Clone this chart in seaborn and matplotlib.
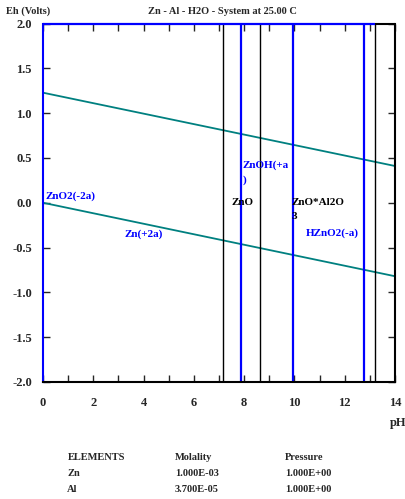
import matplotlib
matplotlib.use("Agg")
import matplotlib.pyplot as plt
import seaborn as sns
import pandas as pd

# Data
water_ph = [0.0, 14.0]
water_upper = [1.228, 0.41]
water_lower = [0.0, -0.82]

boundary_ph = [7.14, 7.86, 8.64, 9.96, 12.77, 13.2]
boundary_color = ['black', 'blue', 'black', 'blue', 'blue', 'black']

species_labels = ['ZnO2(-2a)', 'Zn(+2a)', 'ZnOH(+a\n)', 'ZnO', 'ZnO*Al2O\n3', 'HZnO2(-a)']
species_ph = [0.1, 3.25, 7.95, 7.5, 9.9, 10.45]
species_eh = [0.02, -0.41, 0.2, -0.05, -0.2, -0.39]
species_color = ['blue', 'blue', 'blue', 'black', 'black', 'blue']

elements = ['Zn', 'Al']
molality = ['1.000E-03', '3.700E-05']
pressure = ['1.000E+00', '1.000E+00']

sns.set_style("ticks")
plt.rcParams['font.family'] = ['Liberation Serif', 'DejaVu Serif']
plt.rcParams['font.weight'] = 'bold'

fig = plt.figure(figsize=(4.05, 4.99), dpi=100)
ax = fig.add_axes([43 / 405, 117 / 499, 352 / 405, 358.5 / 499])

# water stability lines
agua = pd.DataFrame({'pH': water_ph * 2,
                     'Eh': water_upper + water_lower,
                     'linha': ['sup'] * 2 + ['inf'] * 2})
sns.lineplot(data=agua, x='pH', y='Eh', units='linha', estimator=None,
             color='#008080', lw=1.3, ax=ax)

# boundaries between predominance fields
for ph, cor in zip(boundary_ph, boundary_color):
    ax.vlines(ph, -2, 2, color=cor, lw=1.6 if cor == 'blue' else 1.0)

ax.set_xlim(0, 14)
ax.set_ylim(-2, 2)
ax.set_xticks(range(0, 15, 2))
ax.set_xticks(range(1, 14, 2), minor=True)
ax.set_yticks([2.0, 1.5, 1.0, 0.5, 0.0, -0.5, -1.0, -1.5, -2.0])
ax.set_yticklabels(['2.0', '1.5', '1.0', '0.5', '0.0', '-0.5', '-1.0', '-1.5', '-2.0'])
ax.tick_params(which='both', direction='in', top=True, right=True, length=5,
               width=1, labelsize=9)
ax.tick_params(axis='y', pad=8)
ax.tick_params(axis='x', pad=11)
for lab in ax.get_xticklabels() + ax.get_yticklabels():
    lab.set_fontweight('bold')
ax.set_xlabel('')
ax.set_ylabel('')

for sp in ax.spines.values():
    sp.set_linewidth(1.5)
    sp.set_color('black')
ax.spines['left'].set_color('blue')
ax.spines['top'].set_visible(False)
ax.hlines(2.0, 0, 13.2, color='blue', lw=1.6, clip_on=False)
ax.hlines(2.0, 13.2, 14, color='black', lw=1.5, clip_on=False)

for txt, ph, eh, cor in zip(species_labels, species_ph, species_eh, species_color):
    ax.text(ph, eh, txt, color=cor, fontsize=8, fontweight='bold',
            ha='left', va='bottom', linespacing=1.7)

fig.text(222 / 405, 1 - 11 / 499, 'Zn - Al - H2O - System at 25.00 C',
         ha='center', va='center', fontsize=7.5, fontweight='bold')
fig.text(6 / 405, 1 - 11 / 499, 'Eh (Volts)', ha='left', va='center',
         fontsize=7.5, fontweight='bold')
fig.text(390 / 405, 1 - 423 / 499, 'pH', ha='left', va='center',
         fontsize=9, fontweight='bold')

# tabela de elementos
linhas_y = [458, 474, 489]
fig.text(68 / 405, 1 - linhas_y[0] / 499, 'ELEMENTS', fontsize=7.5, fontweight='bold', va='center')
fig.text(175 / 405, 1 - linhas_y[0] / 499, 'Molality', fontsize=7.5, fontweight='bold', va='center')
fig.text(285 / 405, 1 - linhas_y[0] / 499, 'Pressure', fontsize=7.5, fontweight='bold', va='center')
for i, el in enumerate(elements):
    y = 1 - linhas_y[i + 1] / 499
    fig.text(67 / 405, y, el, fontsize=7.5, fontweight='bold', va='center')
    fig.text(175 / 405, y, molality[i], fontsize=7.5, fontweight='bold', va='center')
    fig.text(285 / 405, y, pressure[i], fontsize=7.5, fontweight='bold', va='center')

fig.savefig('out.png', dpi=100)
